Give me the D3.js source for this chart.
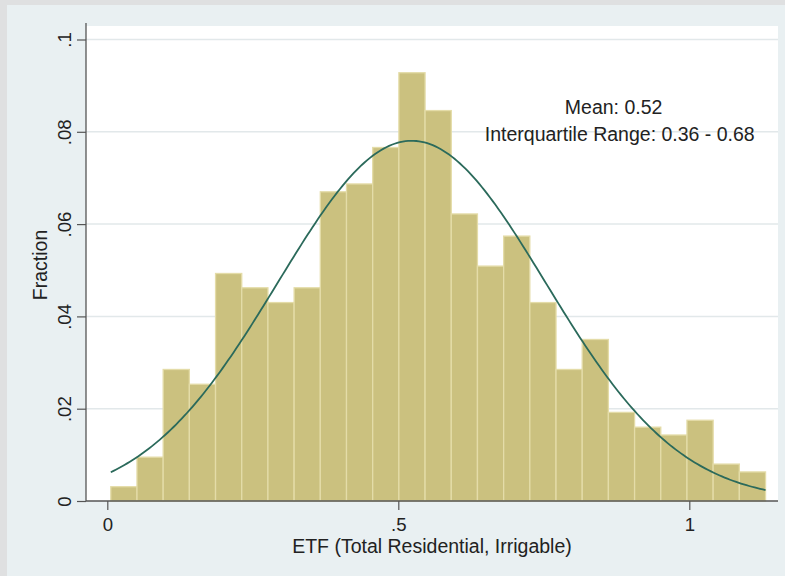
<!DOCTYPE html>
<html>
<head>
<meta charset="utf-8">
<script src="https://cdn.jsdelivr.net/npm/d3@7"></script>
<style>
  html, body { margin: 0; padding: 0; background: #e9f0f2; }
  svg { display: block; }
  text { font-family: "Liberation Sans", Arial, sans-serif; fill: #222; }
</style>
</head>
<body>
<svg id="chart" width="785" height="576"></svg>
<script>
// Histogram bins: left edge of the first bin and common bin width
const binStart = 0.006;
const binWidth = 0.045;

// Fraction of observations in each bin
const fractions = [
  0.0031, 0.0095, 0.0285, 0.0253, 0.0493, 0.0462, 0.0430, 0.0462,
  0.0670, 0.0687, 0.0766, 0.0928, 0.0846, 0.0622, 0.0509, 0.0574,
  0.0430, 0.0285, 0.0350, 0.0192, 0.0160, 0.0143, 0.0175, 0.0080,
  0.0063
];

// Normal density overlay parameters
const normalMean = 0.523;
const normalSd = 0.23;

// Axis ticks and labels
const xTicks = [0, 0.5, 1];
const xTickLabels = ["0", ".5", "1"];
const yTicks = [0, 0.02, 0.04, 0.06, 0.08, 0.1];
const yTickLabels = ["0", ".02", ".04", ".06", ".08", ".1"];

const xTitle = "ETF (Total Residential, Irrigable)";
const yTitle = "Fraction";
const notes = ["Mean: 0.52", "Interquartile Range: 0.36 - 0.68"];

const svg = d3.select("#chart");
const W = 785, H = 576;
const plot = { left: 86, right: 778, top: 26, bottom: 501 };
const tickFont = 18.6;
const textFont = 19.5;

const x = d3.scaleLinear().domain([0, 1]).range([107.3, 689.3]);
const y = d3.scaleLinear().domain([0, 0.1]).range([501, 39.5]);

// Outer frame and graph region
svg.append("rect").attr("width", W).attr("height", H).attr("fill", "#e9f0f2");
svg.append("rect").attr("width", W).attr("height", 5).attr("fill", "#dfe0e1");
svg.append("rect").attr("width", 7).attr("height", H).attr("fill", "#dfe0e1");

// Plot region
svg.append("rect")
  .attr("x", plot.left).attr("y", plot.top)
  .attr("width", plot.right - plot.left).attr("height", plot.bottom - plot.top)
  .attr("fill", "#ffffff");

// Horizontal grid lines
svg.append("g").selectAll("line")
  .data(yTicks.filter(d => d > 0))
  .join("line")
  .attr("x1", plot.left).attr("x2", plot.right)
  .attr("y1", d => y(d)).attr("y2", d => y(d))
  .attr("stroke", "#e2e8ea").attr("stroke-width", 1.5);

// Bars
const bins = fractions.map((v, i) => ({ x0: binStart + i * binWidth, x1: binStart + (i + 1) * binWidth, v }));
svg.append("g").selectAll("rect")
  .data(bins)
  .join("rect")
  .attr("x", d => x(d.x0))
  .attr("width", d => x(d.x1) - x(d.x0))
  .attr("y", d => y(d.v))
  .attr("height", d => y(0) - y(d.v))
  .attr("fill", "#cbc17f")
  .attr("stroke", "#e4dca8")
  .attr("stroke-width", 1.3);

// Normal density scaled to bin width
const binEnd = binStart + fractions.length * binWidth;
const nPts = 240;
const curvePts = d3.range(nPts + 1).map(i => {
  const xv = binStart + (binEnd - binStart) * i / nPts;
  const z = (xv - normalMean) / normalSd;
  return [xv, binWidth * Math.exp(-0.5 * z * z) / (normalSd * Math.sqrt(2 * Math.PI))];
});
svg.append("path")
  .datum(curvePts)
  .attr("d", d3.line().x(d => x(d[0])).y(d => y(d[1])))
  .attr("fill", "none")
  .attr("stroke", "#2b6a5b")
  .attr("stroke-width", 1.8);

// Axis lines
svg.append("line")
  .attr("x1", plot.left).attr("x2", plot.left)
  .attr("y1", 23).attr("y2", plot.bottom)
  .attr("stroke", "#555").attr("stroke-width", 1.3);
svg.append("line")
  .attr("x1", plot.left).attr("x2", plot.right)
  .attr("y1", plot.bottom).attr("y2", plot.bottom)
  .attr("stroke", "#555").attr("stroke-width", 1.3);

// Y axis ticks with rotated labels
const yAxis = d3.axisLeft(y)
  .tickValues(yTicks)
  .tickSize(9)
  .tickSizeOuter(0)
  .tickFormat((d, i) => yTickLabels[i]);
const gy = svg.append("g").attr("transform", `translate(${plot.left},0)`).call(yAxis);
gy.select(".domain").remove();
gy.selectAll(".tick line").attr("stroke", "#555").attr("stroke-width", 1.2);
gy.selectAll(".tick text")
  .attr("x", null).attr("dy", null)
  .attr("transform", "translate(-15.5,0) rotate(-90)")
  .attr("text-anchor", "middle")
  .attr("font-family", "Liberation Sans, Arial, sans-serif")
  .attr("font-size", tickFont)
  .attr("fill", "#222");

// X axis ticks
const xAxis = d3.axisBottom(x)
  .tickValues(xTicks)
  .tickSize(9)
  .tickSizeOuter(0)
  .tickFormat((d, i) => xTickLabels[i]);
const gx = svg.append("g").attr("transform", `translate(0,${plot.bottom})`).call(xAxis);
gx.select(".domain").remove();
gx.selectAll(".tick line").attr("stroke", "#555").attr("stroke-width", 1.2);
gx.selectAll(".tick text")
  .attr("y", 29.8).attr("dy", null)
  .attr("text-anchor", "middle")
  .attr("font-family", "Liberation Sans, Arial, sans-serif")
  .attr("font-size", tickFont)
  .attr("fill", "#222");

// Axis titles
svg.append("text")
  .attr("x", (plot.left + plot.right) / 2).attr("y", 552.5)
  .attr("text-anchor", "middle").attr("font-size", textFont)
  .text(xTitle);
svg.append("text")
  .attr("transform", `translate(47,${(plot.top + plot.bottom) / 2 + 1.5}) rotate(-90)`)
  .attr("text-anchor", "middle").attr("font-size", textFont)
  .text(yTitle);

// Summary notes
svg.append("text")
  .attr("x", x(0.870)).attr("y", y(0.08385))
  .attr("text-anchor", "middle").attr("font-size", textFont)
  .text(notes[0]);
svg.append("text")
  .attr("x", x(0.8805)).attr("y", y(0.0779))
  .attr("text-anchor", "middle").attr("font-size", textFont)
  .text(notes[1]);
</script>
</body>
</html>
